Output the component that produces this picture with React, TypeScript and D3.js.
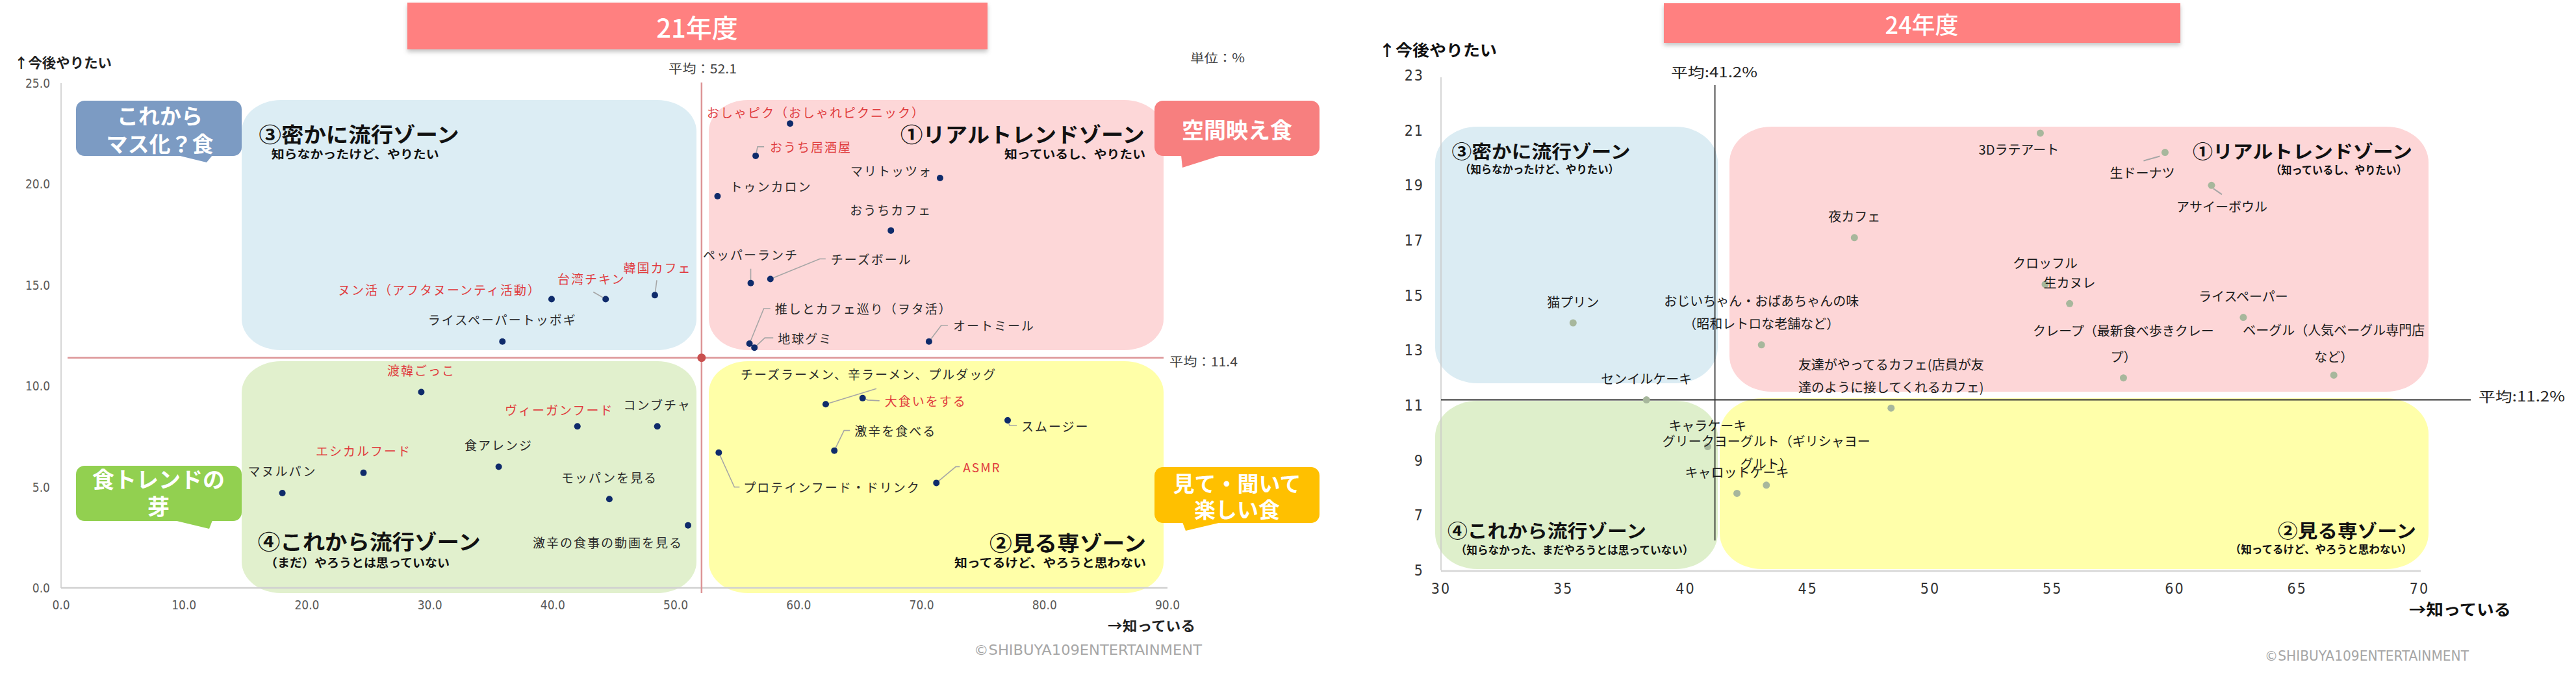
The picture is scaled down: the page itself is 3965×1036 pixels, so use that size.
import React from 'react'
import * as d3 from 'd3'

// ---------- 21年度 ----------
const items21 = [
    'おしゃピク（おしゃれピクニック）',
    'おうち居酒屋',
    'マリトッツォ',
    'トゥンカロン',
    'おうちカフェ',
    'ペッパーランチ',
    'チーズボール',
    '推しとカフェ巡り（ヲタ活）',
    '地球グミ',
    'オートミール',
    'ヌン活（アフタヌーンティ活動）',
    '台湾チキン',
    '韓国カフェ',
    'ライスペーパートッポギ',
    '渡韓ごっこ',
    'ヴィーガンフード',
    'コンブチャ',
    'エシカルフード',
    '食アレンジ',
    'マヌルパン',
    'モッパンを見る',
    '激辛の食事の動画を見る',
    'チーズラーメン、辛ラーメン、プルダッグ',
    '大食いをする',
    'スムージー',
    '激辛を食べる',
    'プロテインフード・ドリンク',
    'ASMR',
]
const known21 = [59.3, 56.5, 71.5, 53.4, 67.5, 56.1, 57.7, 56.0, 56.4, 70.6, 39.9, 44.3, 48.3, 35.9, 29.3, 42.0, 48.5, 24.6, 35.6, 18.0, 44.6, 51.0, 62.2, 65.2, 77.0, 62.9, 53.5, 71.2]
const want21 = [23.0, 21.4, 20.3, 19.4, 17.7, 15.1, 15.3, 12.1, 11.9, 12.2, 14.3, 14.3, 14.5, 12.2, 9.7, 8.0, 8.0, 5.7, 6.0, 4.7, 4.4, 3.1, 9.1, 9.4, 8.3, 6.8, 6.7, 5.2]
const red21 = ['おしゃピク（おしゃれピクニック）', 'おうち居酒屋', 'ヌン活（アフタヌーンティ活動）', '台湾チキン', '韓国カフェ', '渡韓ごっこ', 'ヴィーガンフード', 'エシカルフード', '大食いをする', 'ASMR']
const xTicks21 = [0, 10, 20, 30, 40, 50, 60, 70, 80, 90]
const yTicks21 = [0, 5, 10, 15, 20, 25]
const meanKnown21 = 52.1
const meanWant21 = 11.4

// ---------- 24年度 ----------
const items24 = [
    '夜カフェ',
    '猫プリン',
    'おじいちゃん・おばあちゃんの味\n（昭和レトロな老舗など）',
    '3Dラテアート',
    '生ドーナツ',
    'アサイーボウル',
    'クロッフル',
    '生カヌレ',
    'ライスペーパー',
    'クレープ（最新食べ歩きクレー\nプ）',
    'ベーグル（人気ベーグル専門店\nなど）',
    '友達がやってるカフェ(店員が友\n達のように接してくれるカフェ)',
    'センイルケーキ',
    'キャラケーキ',
    'グリークヨーグルト（ギリシャヨー\nグルト）',
    'キャロットケーキ',
]
const known24 = [46.9, 35.4, 43.1, 54.5, 59.6, 61.5, 54.7, 55.7, 62.8, 57.9, 66.5, 48.4, 38.4, 40.9, 43.3, 42.1]
const want24 = [17.1, 14.0, 13.2, 20.9, 20.2, 19.0, 15.4, 14.7, 14.2, 12.0, 12.1, 10.9, 11.2, 9.5, 8.1, 7.8]
const xTicks24 = [30, 35, 40, 45, 50, 55, 60, 65, 70]
const yTicks24 = [5, 7, 9, 11, 13, 15, 17, 19, 21, 23]
const meanKnown24 = 41.2
const meanWant24 = 11.2

// label placement (pixel offsets from the dot) — default is centred above
const layout21: Record<string, { dx: number; dy: number; anchor: string; leader?: number[][] }> = {
    'おしゃピク（おしゃれピクニック）': { dx: -128, dy: -18, anchor: 'start' },
    'おうち居酒屋': { dx: 22, dy: -14, anchor: 'start', leader: [[0, 0], [3, -14], [13, -14]] },
    'マリトッツォ': { dx: -12, dy: -12, anchor: 'end' },
    'トゥンカロン': { dx: 19, dy: -16, anchor: 'start' },
    'おうちカフェ': { dx: 0, dy: -32, anchor: 'middle' },
    'ペッパーランチ': { dx: 0, dy: -44, anchor: 'middle', leader: [[0, 0], [0, -22]] },
    'チーズボール': { dx: 93, dy: -31, anchor: 'start', leader: [[0, 0], [76, -31], [85, -31]] },
    '推しとカフェ巡り（ヲタ活）': { dx: 39, dy: -54, anchor: 'start', leader: [[0, 0], [22, -54], [32, -54]] },
    '地球グミ': { dx: 36, dy: -15, anchor: 'start', leader: [[0, 0], [16, -15], [29, -15]] },
    'オートミール': { dx: 37, dy: -25, anchor: 'start', leader: [[0, 0], [19, -25], [29, -25]] },
    'ヌン活（アフタヌーンティ活動）': { dx: -16, dy: -15, anchor: 'end' },
    '台湾チキン': { dx: -22, dy: -32, anchor: 'middle', leader: [[0, 0], [-19, -11]] },
    '韓国カフェ': { dx: 4, dy: -43, anchor: 'middle', leader: [[0, 0], [3, -23]] },
    'ヴィーガンフード': { dx: -28, dy: -26, anchor: 'middle' },
    '激辛の食事の動画を見る': { dx: -8, dy: 26, anchor: 'end' },
    'チーズラーメン、辛ラーメン、プルダッグ': { dx: -131, dy: -47, anchor: 'start', leader: [[0, 0], [78, -24]] },
    '大食いをする': { dx: 34, dy: 4, anchor: 'start', leader: [[0, 0], [8, 3], [26, 4]] },
    'スムージー': { dx: 21, dy: 8, anchor: 'start', leader: [[0, 0], [3, 8], [14, 8]] },
    '激辛を食べる': { dx: 31, dy: -31, anchor: 'start', leader: [[0, 0], [15, -31], [24, -31]] },
    'プロテインフード・ドリンク': { dx: 38, dy: 53, anchor: 'start', leader: [[0, 0], [24, 53], [32, 53]] },
    'ASMR': { dx: 41, dy: -25, anchor: 'start', leader: [[0, 0], [30, -25], [36, -25]] },
}
const layout24: Record<string, { dx: number; dy: number; gap?: number; leader?: number[][] }> = {
    '3Dラテアート': { dx: -33, dy: 25 },
    '生ドーナツ': { dx: -35, dy: 31, leader: [[-8, 6], [-33, 13]] },
    'アサイーボウル': { dx: 16, dy: 32, leader: [[3, 5], [16, 14]] },
    'クレープ（最新食べ歩きクレー\nプ）': { dx: 0, dy: -33, gap: 40 },
    'ベーグル（人気ベーグル専門店\nなど）': { dx: 0, dy: -29, gap: 41 },
}

const JP = "'Noto Sans CJK JP', 'Noto Sans', sans-serif"
const NARROW = "'Liberation Sans Narrow', 'DejaVu Sans Condensed', 'Roboto', sans-serif"

const T = ({ x, y, s, size = 20, fill = '#222', anchor = 'start', weight = 400, len, ls, family = JP }: any) => (
    <text
        x={x}
        y={y}
        fontSize={size}
        fill={fill}
        textAnchor={anchor}
        fontWeight={weight}
        fontFamily={family}
        dominantBaseline="central"
        textLength={len}
        lengthAdjust={len ? 'spacingAndGlyphs' : undefined}
        letterSpacing={ls}
    >
        {s}
    </text>
)

// speech bubble
const Callout = ({ x, y, w, h, fill, tail, lines, cx, ys, size }: any) => (
    <g>
        <rect x={x} y={y} width={w} height={h} rx={13} fill={fill} />
        <polygon points={tail.map(p => p.join(',')).join(' ')} fill={fill} />
        {lines.map((l, i) => (
            <T key={i} x={cx} y={ys[i]} s={l} size={size} fill="#fff" anchor="middle" weight={700} />
        ))}
    </g>
)

const line = d3.line()

function Chart21() {
    const x = d3.scaleLinear().domain([0, 90]).range([94, 1797])
    const y = d3.scaleLinear().domain([0, 25]).range([905, 128])
    const mx = x(meanKnown21)
    const my = y(meanWant21)
    return (
        <g>
            <rect x={627} y={4} width={893} height={72} fill="#ff8080" filter="url(#shadow)" />
            <T x={1073} y={41} s="21年度" size={40} fill="#fff" anchor="middle" weight={500} />

            {/* zones */}
            <rect x={372} y={154} width={700} height={385} rx={60} ry={48} fill="#dcedf4" />
            <rect x={1091} y={154} width={700} height={385} rx={60} ry={48} fill="#fdd7d8" />
            <rect x={372} y={556} width={700} height={357} rx={60} ry={48} fill="#e1f0cd" />
            <rect x={1091} y={556} width={700} height={357} rx={60} ry={48} fill="#ffffa8" />

            {/* axes */}
            <line x1={94} x2={94} y1={y(25)} y2={y(0)} stroke="#c8c8c8" strokeWidth={1.5} />
            <line x1={x(0)} x2={x(90)} y1={y(0)} y2={y(0)} stroke="#d0d0d0" strokeWidth={2.5} />
            {yTicks21.map(t => (
                <T key={t} x={77} y={y(t)} s={t.toFixed(1)} size={19} anchor="end" fill="#595959" family={NARROW} />
            ))}
            {xTicks21.map(t => (
                <T key={t} x={x(t)} y={931} s={t.toFixed(1)} size={19} anchor="middle" fill="#595959" family={NARROW} />
            ))}

            {/* averages */}
            <line x1={mx} x2={mx} y1={127} y2={913} stroke="#dc9496" strokeWidth={2.5} />
            <line x1={104} x2={1791} y1={my} y2={my} stroke="#dc9496" strokeWidth={2.5} />
            <circle cx={mx} cy={my} r={6.5} fill="#c9504f" />

            {/* zone titles */}
            <T x={398.6} y={205} s="③密かに流行ゾーン" size={32} weight={700} fill="#111" len={308} />
            <T x={417.7} y={236} s="知らなかったけど、やりたい" size={18} weight={700} fill="#111" len={258} />
            <T x={1762} y={205} s="①リアルトレンドゾーン" size={32} weight={700} fill="#111" anchor="end" len={376} />
            <T x={1763} y={236} s="知っているし、やりたい" size={18} weight={700} fill="#111" anchor="end" len={217} />
            <T x={396.7} y={832} s="④これから流行ゾーン" size={32} weight={700} fill="#111" len={343} />
            <T x={408} y={865} s="（まだ）やろうとは思っていない" size={18} weight={700} fill="#111" len={284} />
            <T x={1764} y={834} s="②見る専ゾーン" size={32} weight={700} fill="#111" anchor="end" len={241} />
            <T x={1764} y={865} s="知ってるけど、やろうと思わない" size={18} weight={700} fill="#111" anchor="end" len={295} />

            {/* callouts */}
            <Callout x={117} y={155} w={255} h={85} fill="#7c9bc3" tail={[[273, 239], [327, 239], [318, 250]]}
                lines={['これから', 'マス化？食']} cx={246} ys={[177, 220]} size={33} />
            <Callout x={117} y={717} w={255} h={85} fill="#92d050" tail={[[268, 801], [327, 801], [322, 814]]}
                lines={['食トレンドの', '芽']} cx={244} ys={[736, 778]} size={34} />
            <Callout x={1777} y={155} w={254} h={85} fill="#f77f7f" tail={[[1818, 239], [1880, 239], [1820, 258]]}
                lines={['空間映え食']} cx={1904} ys={[198]} size={34} />
            <Callout x={1777} y={719} w={254} h={86} fill="#ffc000" tail={[[1820, 804], [1880, 804], [1825, 817]]}
                lines={['見て・聞いて', '楽しい食']} cx={1904} ys={[743, 783]} size={33} />

            {/* leaders */}
            {items21.map((name, i) => {
                const l = layout21[name]
                if (!l || !l.leader) return null
                const px = x(known21[i])
                const py = y(want21[i])
                return (
                    <path key={name} d={line(l.leader.map(p => [px + p[0], py + p[1]]) as any) || ''}
                        fill="none" stroke="#a6a6a6" strokeWidth={1.6} />
                )
            })}
            {/* dots */}
            {items21.map((name, i) => (
                <circle key={name} cx={x(known21[i])} cy={y(want21[i])} r={5} fill="#0f2b6b" />
            ))}
            {/* labels */}
            {items21.map((name, i) => {
                const l = layout21[name] || { dx: 0, dy: -34, anchor: 'middle' }
                return (
                    <T key={name} x={x(known21[i]) + l.dx} y={y(want21[i]) + l.dy} s={name} size={19} ls={2}
                        anchor={l.anchor} fill={red21.includes(name) ? '#e03c3e' : '#2a2a2a'} />
                )
            })}

            <T x={22} y={95} s="↑今後やりたい" size={21} weight={700} fill="#222" len={150} />
            <T x={1705} y={962} s="→知っている" size={21} weight={700} fill="#222" len={135} />
            <T x={1029} y={104} s="平均：52.1" size={19} fill="#404040" len={105} />
            <T x={1832} y={88} s="単位：%" size={18} fill="#404040" len={84} />
            <T x={1800} y={555} s="平均：11.4" size={19} fill="#404040" len={105} />
            <T x={1499} y={1000} s="©SHIBUYA109ENTERTAINMENT" size={22} fill="#a6a6a6" family={NARROW} len={351} />
        </g>
    )
}

function Chart24() {
    const x = d3.scaleLinear().domain([30, 70]).range([2218, 3724])
    const y = d3.scaleLinear().domain([5, 23]).range([878, 116])
    const mx = x(meanKnown24)
    const my = y(meanWant24)
    return (
        <g>
            <rect x={2561} y={5} width={795} height={61} fill="#ff8080" filter="url(#shadow)" />
            <T x={2958} y={36} s="24年度" size={36} fill="#fff" anchor="middle" weight={500} />

            {/* zones */}
            <rect x={2209} y={195} width={435} height={395} rx={65} ry={55} fill="#dbecf3" />
            <rect x={2662} y={195} width={1076} height={408} rx={65} ry={55} fill="#fdd6d7" />
            <rect x={2209} y={617} width={435} height={259} rx={65} ry={55} fill="#deefcb" />
            <rect x={2647} y={613} width={1091} height={263} rx={65} ry={55} fill="#ffffaa" />

            {/* axes */}
            <line x1={2218} x2={2218} y1={y(23) + 3} y2={y(5)} stroke="#c8c8c8" strokeWidth={1.5} />
            <line x1={x(30)} x2={x(70) + 2} y1={y(5) + 1} y2={y(5) + 1} stroke="#d6d6d6" strokeWidth={2.5} />
            {yTicks24.map(t => (
                <T key={t} x={2192} y={y(t)} s={String(t)} size={23} anchor="end" fill="#333" family={NARROW} ls={2} />
            ))}
            {xTicks24.map(t => (
                <T key={t} x={x(t)} y={906} s={String(t)} size={23} anchor="middle" fill="#333" family={NARROW} ls={2} />
            ))}

            {/* averages */}
            <line x1={mx} x2={mx} y1={131} y2={832} stroke="#111" strokeWidth={1.5} />
            <line x1={2218} x2={3803} y1={my} y2={my} stroke="#333" strokeWidth={2} />
            <T x={2572} y={110} s="平均:41.2%" size={21} fill="#222" len={133} />
            <T x={3815} y={609} s="平均:11.2%" size={21} fill="#222" len={133} />

            {/* zone titles */}
            <T x={2234.5} y={232} s="③密かに流行ゾーン" size={28} weight={700} fill="#111" len={275} />
            <T x={2247} y={259} s="（知らなかったけど、やりたい）" size={17} weight={700} fill="#111" len={245} />
            <T x={3713} y={232} s="①リアルトレンドゾーン" size={28} weight={700} fill="#111" anchor="end" len={338} />
            <T x={3705} y={260} s="（知っているし、やりたい）" size={17} weight={700} fill="#111" anchor="end" len={210} />
            <T x={2228} y={816} s="④これから流行ゾーン" size={28} weight={700} fill="#111" len={306} />
            <T x={2240.6} y={845} s="（知らなかった、まだやろうとは思っていない）" size={17} weight={700} fill="#111" len={366} />
            <T x={3719} y={816} s="②見る専ゾーン" size={28} weight={700} fill="#111" anchor="end" len={213} />
            <T x={3712.6} y={844} s="（知ってるけど、やろうと思わない）" size={17} weight={700} fill="#111" anchor="end" len={280} />

            {/* leaders */}
            {items24.map((name, i) => {
                const l = layout24[name]
                if (!l || !l.leader) return null
                const px = x(known24[i])
                const py = y(want24[i])
                return (
                    <path key={name} d={line(l.leader.map(p => [px + p[0], py + p[1]]) as any) || ''}
                        fill="none" stroke="#a6a6a6" strokeWidth={2} />
                )
            })}
            {/* dots */}
            {items24.map((name, i) => (
                <circle key={name} cx={x(known24[i])} cy={y(want24[i])} r={5.5} fill="#a7b79c" />
            ))}
            {/* labels */}
            {items24.map((name, i) => {
                const l = layout24[name] || { dx: 0, dy: -33 }
                const rows = name.split('\n')
                const gap = l.gap || 35
                return rows.map((r, j) => (
                    <T key={name + j} x={x(known24[i]) + l.dx} y={y(want24[i]) + l.dy - (rows.length - 1 - j) * gap}
                        s={r} size={20} anchor="middle" fill="#1a1a1a" />
                ))
            })}

            <T x={2122} y={75} s="↑今後やりたい" size={24} weight={700} fill="#111" len={182} />
            <T x={3708} y={936} s="→知っている" size={24} weight={700} fill="#111" len={157} />
            <T x={3486} y={1009} s="©SHIBUYA109ENTERTAINMENT" size={22} fill="#a6a6a6" family={NARROW} len={314} />
        </g>
    )
}

export default function App() {
    return (
        <div style={{ position: 'absolute', left: 0, top: 0 }}>
            <svg width={3965} height={1036} style={{ display: 'block', background: '#fff' }}>
                <defs>
                    <filter id="shadow" x="-5%" y="-20%" width="110%" height="150%">
                        <feDropShadow dx={0} dy={4} stdDeviation={3} floodColor="#808080" floodOpacity={0.45} />
                    </filter>
                </defs>
                <Chart21 />
                <Chart24 />
            </svg>
        </div>
    )
}
